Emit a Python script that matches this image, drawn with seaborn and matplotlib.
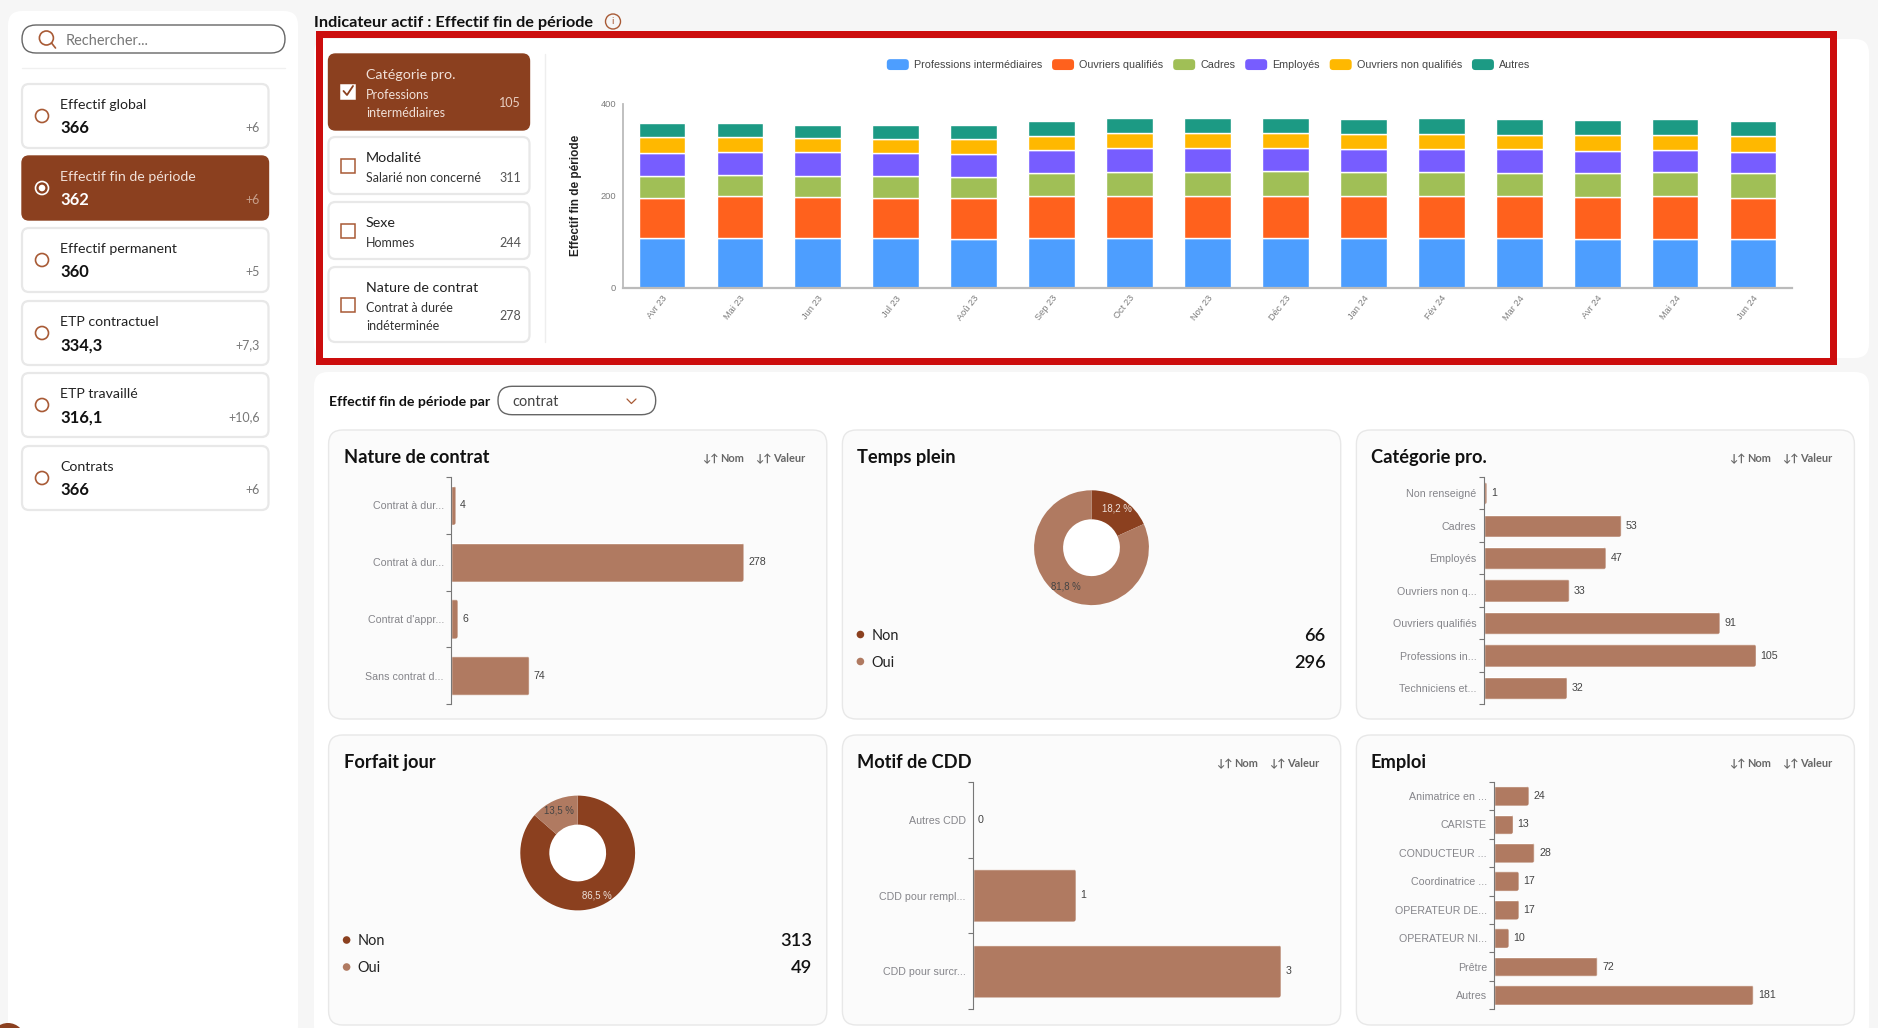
import numpy as np
import pandas as pd
import matplotlib
matplotlib.use('Agg')
import matplotlib.pyplot as plt
import seaborn as sns
from matplotlib.legend_handler import HandlerPatch
from matplotlib.patches import FancyBboxPatch, Circle, Patch, Rectangle
from matplotlib.transforms import IdentityTransform

W, H = 1878, 1028
BROWN = '#8b401f'
LIGHT_BROWN = '#b07a61'
CHART_FONT = 'Liberation Sans'

months = ['Avr 23', 'Mai 23', 'Jun 23', 'Jul 23', 'Aoû 23', 'Sep 23', 'Oct 23', 'Nov 23',
          'Déc 23', 'Jan 24', 'Fév 24', 'Mar 24', 'Avr 24', 'Mai 24', 'Jun 24']
professions = [107, 107, 107, 107, 106, 109, 108, 108, 107, 108, 108, 107, 106, 106, 105]
ouvriers_q = [89, 92, 90, 89, 89, 91, 92, 92, 93, 91, 91, 92, 92, 93, 91]
cadres = [46, 45, 45, 46, 46, 49, 52, 52, 53, 52, 52, 51, 51, 53, 53]
employes = [50, 50, 52, 50, 50, 50, 51, 51, 51, 51, 51, 51, 49, 48, 47]
ouvriers_nq = [35, 34, 31, 32, 32, 31, 33, 33, 33, 32, 32, 32, 33, 33, 33]
autres = [30, 30, 29, 30, 31, 32, 32, 32, 32, 33, 35, 34, 33, 33, 33]
series_names = ['Professions intermédiaires', 'Ouvriers qualifiés', 'Cadres', 'Employés',
                'Ouvriers non qualifiés', 'Autres']
series_colors = ['#4d9eff', '#ff611d', '#a0bf56', '#775dff', '#ffb800', '#1c9a84']

contrat_labels = ['Contrat à dur...', 'Contrat à dur...', "Contrat d'appr...", 'Sans contrat d...']
contrat_values = [4, 278, 6, 74]
categorie_labels = ['Non renseigné', 'Cadres', 'Employés', 'Ouvriers non q...', 'Ouvriers qualifiés',
                    'Professions in...', 'Techniciens et...']
categorie_values = [1, 53, 47, 33, 91, 105, 32]
motif_labels = ['Autres CDD', 'CDD pour rempl...', 'CDD pour surcr...']
motif_values = [0, 1, 3]
emploi_labels = ['Animatrice en ...', 'CARISTE', 'CONDUCTEUR ...', 'Coordinatrice ...', 'OPERATEUR DE...',
                 'OPERATEUR NI...', 'Prêtre', 'Autres']
emploi_values = [24, 13, 28, 17, 17, 10, 72, 181]
temps_plein_values = [66, 296]
forfait_values = [313, 49]

indicateurs = [('Effectif global', '366', '+6'), ('Effectif fin de période', '362', '+6'),
               ('Effectif permanent', '360', '+5'), ('ETP contractuel', '334,3', '+7,3'),
               ('ETP travaillé', '316,1', '+10,6'), ('Contrats', '366', '+6')]
indicateur_tops = [84, 156, 228, 301, 373, 446]


def pt(n):
    return n * 0.72


sns.set_style('white')
plt.rcParams['font.family'] = ['Lato', 'DejaVu Sans']

fig = plt.figure(figsize=(W / 100, H / 100), dpi=100, facecolor='#f6f6f6')
ui = fig.add_axes([0, 0, 1, 1])
ui.set_xlim(0, W)
ui.set_ylim(H, 0)
ui.axis('off')


def sub_axes(x0, y0, x1, y1):
    ax = fig.add_axes([x0 / W, 1 - y1 / H, (x1 - x0) / W, (y1 - y0) / H])
    ax.patch.set_alpha(0)
    return ax


def card(x0, y0, x1, y1, r=10, fc='white', ec='#e9e9e9', lw=1.0):
    ui.add_patch(FancyBboxPatch((x0 + r, y0 + r), x1 - x0 - 2 * r, y1 - y0 - 2 * r,
                                boxstyle=f'round,pad={r},rounding_size={r}', fc=fc, ec=ec, lw=lw))


def txt(x, y, s, size, color='#222222', weight='normal', ha='left', **kw):
    ui.text(x, y + 1.2, s, fontsize=pt(size), color=color, fontweight=weight, ha=ha, va='center', **kw)


def rounded_swatch(legend, orig_handle, xdescent, ydescent, width, height, fontsize):
    return FancyBboxPatch((-xdescent + 2.5, -ydescent + 2.5), width - 5, height - 5,
                          boxstyle='round,pad=2.5,rounding_size=2.5')


# panels
card(8, 11, 298, 1040, r=14, ec='none')
card(314, 39, 1869, 358, r=14, ec='none')
card(314, 372, 1869, 1040, r=14, ec='none')
ui.add_patch(Circle((8, 1040), 17, fc=BROWN, ec='none'))

# search box
card(22, 25, 285, 53, r=14, ec='#666666', lw=1.0)
ui.add_patch(Circle((46.4, 38), 7, fc='none', ec='#a85a35', lw=1.2))
ui.plot([51.5, 55.5], [43, 48], color='#a85a35', lw=1.2)
txt(65.7, 40, 'Rechercher...', 14.5, color='#777777')
ui.plot([22, 285], [68, 68], color='#f0f0f0', lw=1)

# indicator list
for i, (name, val, delta) in enumerate(indicateurs):
    top = indicateur_tops[i]
    active = i == 1
    if active:
        card(22, top, 268.5, top + 64, r=7, fc=BROWN, ec=BROWN)
        ui.add_patch(Circle((42, top + 32), 6.5, fc='none', ec='white', lw=1.2))
        ui.add_patch(Circle((42, top + 32), 3.3, fc='white', ec='none'))
    else:
        card(22, top, 268.5, top + 64, r=7, ec='#e8e8e8', lw=1.6)
        ui.add_patch(Circle((42, top + 32), 6.5, fc='none', ec='#a85a35', lw=1.2))
    txt(60, top + 20, name, 14.1, color='#f0e0d8' if active else '#222222')
    txt(60, top + 43, val, 16.5, color='white' if active else '#111111', weight='bold')
    txt(260, top + 43, delta, 12.5, color='#c79f8b' if active else '#777777', ha='right')

# heading
txt(314, 22, 'Indicateur actif : Effectif fin de période', 16.3, color='#111111', weight='bold')
ui.add_patch(Circle((613, 21.5), 7.5, fc='none', ec='#a85a35', lw=1))
txt(613, 20.5, 'i', 10, color='#a85a35', ha='center')

# filter cards
filtres = [(54, 130, 'Catégorie pro.', ['Professions', 'intermédiaires'], '105'),
           (137, 194, 'Modalité', ['Salarié non concerné'], '311'),
           (202, 259, 'Sexe', ['Hommes'], '244'),
           (267, 342, 'Nature de contrat', ['Contrat à durée', 'indéterminée'], '278')]
for i, (y0, y1, name, lines, val) in enumerate(filtres):
    active = i == 0
    if active:
        card(328.5, y0, 529.5, y1, r=7, fc=BROWN, ec=BROWN)
    else:
        card(328.5, y0, 529.5, y1, r=7, ec='#e8e8e8', lw=1.6)
    cy = (y0 + y1) / 2 if i != 3 else 305
    if i == 0:
        cy = 92
    ui.add_patch(Rectangle((341, cy - 7), 14, 14, fc='white' if active else 'none',
                           ec='white' if active else '#a85a35', lw=1.1))
    if active:
        ui.plot([343.5, 347, 353], [cy - 1, cy + 3, cy - 6], color=BROWN, lw=1.3)
    color = '#f0e0d8' if active else '#222222'
    sub_color = '#f0e0d8' if active else '#333333'
    title_y = {0: 74, 1: 157, 2: 222, 3: 287}[i]
    txt(366, title_y, name, 14.3, color=color)
    for k, line in enumerate(lines):
        txt(366, title_y + 20 + 18 * k, line, 12.5, color=sub_color)
    val_y = {0: 102, 1: 177, 2: 242, 3: 315}[i]
    txt(521, val_y, val, 12.5, color='#e8cfc2' if active else '#555555', ha='right')
ui.plot([545, 545], [54, 342], color='#eeeeee', lw=1)

# stacked chart
ax = sub_axes(623, 103.7, 1792, 287.7)
bottom = np.zeros(len(months))
for name, vals, color in zip(series_names,
                             [professions, ouvriers_q, cadres, employes, ouvriers_nq, autres],
                             series_colors):
    sns.barplot(x=months, y=vals, bottom=bottom, color=color, saturation=1, width=0.6, ax=ax)
    bottom = bottom + np.array(vals)
ax.set_xlim(-0.5, 14.5)
ax.set_ylim(0, 400)
ax.set_yticks([0, 200, 400])
sns.despine(ax=ax, top=True, right=True)
ax.spines['left'].set_color('#bbbbbb')
ax.spines['bottom'].set_color('#bbbbbb')
ax.spines['left'].set_linewidth(1.3)
ax.spines['bottom'].set_linewidth(1.6)
ax.tick_params(axis='both', length=0, labelfontfamily=CHART_FONT, labelcolor='#7c7c7c', labelsize=pt(9.3))
ax.tick_params(axis='y', pad=pt(7))
plt.setp(ax.get_xticklabels(), rotation=52, ha='right', rotation_mode='anchor')
ax.tick_params(axis='x', pad=pt(6))
ax.set_xlabel('')
ax.set_ylabel('Effectif fin de période', fontsize=pt(11.8), fontweight='bold', family=CHART_FONT, color='#222222')
ax.yaxis.set_label_coords((581.5 - 623) / 1169, 0.5)
handles = [Patch(fc=c, ec='none', label=n) for n, c in zip(series_names, series_colors)]
fig.legend(handles=handles, ncols=6, loc='center', bbox_to_anchor=(1208.5 / W, 1 - 64.7 / H), frameon=False,
           prop={'family': CHART_FONT, 'size': pt(10.8)}, labelcolor='#444444', handlelength=22 / 10.8,
           handleheight=12.7 / 10.8, handletextpad=5 / 10.8, columnspacing=10 / 10.8, borderpad=0, borderaxespad=0,
           handler_map={Patch: HandlerPatch(patch_func=rounded_swatch)})

# section under the chart
txt(328.6, 401, 'Effectif fin de période par', 14.1, color='#111111', weight='bold')
card(498, 386.3, 655.7, 414.7, r=14, ec='#666666', lw=1.0)
txt(512, 401, 'contrat', 14.5, color='#444444')
ui.plot([627, 631.4, 636], [399, 403.5, 399], color='#a85a35', lw=0.9)

cols = [(328.6, 826.8), (842.4, 1340.7), (1356.4, 1854.4)]
rows = [(430, 719), (735, 1025)]
for c0, c1 in cols:
    for r0, r1 in rows:
        card(c0, r0, c1, r1, r=14, fc='#fbfbfb', ec='#e8e8e8', lw=1.0)


def sort_buttons(right, y):
    for dx, s in [(-125, '↓↑'), (-107, 'Nom'), (-72, '↓↑'), (-54, 'Valeur')]:
        txt(right + dx, y, s, 11, color='#666666', weight='bold')


def hbars(x_axis, y0, y1, right, scale, labels, values):
    ax = sub_axes(x_axis, y0, right, y1)
    n = len(values)
    sns.barplot(y=list(range(n)), x=values, orient='h', color=LIGHT_BROWN, saturation=1, width=0.69, ax=ax)
    ax.set_xlim(0, (right - x_axis) / scale)
    ax.set_ylim(n - 0.5, -0.5)
    ax.set_yticks(range(n))
    ax.set_yticklabels(labels)
    ax.set_yticks(np.arange(n + 1) - 0.5, minor=True)
    ax.set_xticks([])
    ax.set_xlabel('')
    ax.set_ylabel('')
    sns.despine(ax=ax, top=True, right=True, bottom=True)
    ax.spines['left'].set_color('#777777')
    ax.spines['left'].set_linewidth(0.8)
    ax.tick_params(axis='y', which='major', length=0, pad=pt(7.5), labelfontfamily=CHART_FONT,
                   labelcolor='#85858a', labelsize=pt(10.6))
    ax.tick_params(axis='y', which='minor', left=True, length=pt(4.6), width=0.8, color='#777777')
    ax.bar_label(ax.containers[0], padding=pt(4.6), fontsize=pt(10.6), color='#444444', family=CHART_FONT)
    # rounded bar ends
    for bar in ax.containers[0]:
        box = bar.get_window_extent()
        if box.width > 0:
            clip = FancyBboxPatch((box.x0 - 6, box.y0), box.width + 6, box.height,
                                  boxstyle='round,pad=0,rounding_size=2.5', transform=IdentityTransform())
            bar.set_clip_path(clip)
    return ax


def donut(cx, cy, card_left, card_right, values, colors, text_colors, leg_y):
    ui.add_patch(Circle((cx, cy), 29, fc='white', ec='none'))
    R = 57.4
    ax = sub_axes(cx - R, cy - R, cx + R, cy + R)
    wedges, texts, autotexts = ax.pie(values, colors=colors, startangle=90, counterclock=False, radius=1,
                                      wedgeprops={'width': 1 - 28.4 / R, 'linewidth': 0},
                                      autopct=lambda p: f'{p:.1f} %'.replace('.', ','), pctdistance=0.81)
    ax.set_xlim(-1, 1)
    ax.set_ylim(-1, 1)
    for t, c in zip(autotexts, text_colors):
        t.set_color(c)
        t.set_fontsize(pt(9.6))
        t.set_family(CHART_FONT)
    for name, val, color, y in zip(['Non', 'Oui'], values, colors, leg_y):
        ui.add_patch(Circle((card_left + 18, y), 3.8, fc=color, ec='none'))
        txt(card_left + 29, y, name, 14.5, color='#222222')
        txt(card_right - 15, y, str(val), 18.3, color='#111111', weight='semibold', ha='right')


# nature de contrat
txt(343.6, 456, 'Nature de contrat', 18.3, color='#111111', weight='bold')
sort_buttons(826.8, 457)
hbars(451.4, 477, 704.3, 815, 1.051, contrat_labels, contrat_values)

# temps plein
txt(857, 456.7, 'Temps plein', 18.3, color='#111111', weight='bold')
donut(1091.5, 547.7, 842.4, 1340.7, temps_plein_values, [BROWN, LIGHT_BROWN], ['#eee2dc', '#444444'], [634.5, 661.5])

# categorie pro
txt(1371, 456.7, 'Catégorie pro.', 18.3, color='#111111', weight='bold')
sort_buttons(1854.4, 457)
hbars(1484, 477, 704.3, 1845, 2.59, categorie_labels, categorie_values)

# forfait jour
txt(343.6, 761.7, 'Forfait jour', 18.3, color='#111111', weight='bold')
donut(577.7, 853, 328.6, 826.8, forfait_values, [BROWN, LIGHT_BROWN], ['#eee2dc', '#444444'], [940, 967])

# motif de CDD
txt(857, 761, 'Motif de CDD', 18.3, color='#111111', weight='bold')
sort_buttons(1340.7, 762)
hbars(973.3, 781.7, 1009.3, 1330, 102.5, motif_labels, motif_values)

# emploi
txt(1371, 761.7, 'Emploi', 18.3, color='#111111', weight='bold')
sort_buttons(1854.4, 762)
hbars(1494.4, 781.7, 1009.3, 1845, 1.431, emploi_labels, emploi_values)

# red highlight
ui.add_patch(Rectangle((319, 33.5), 1513.5, 327, fc='none', ec='#cc0d0d', lw=pt(7), zorder=50))

fig.savefig('out.png', dpi=100, facecolor=fig.get_facecolor())
